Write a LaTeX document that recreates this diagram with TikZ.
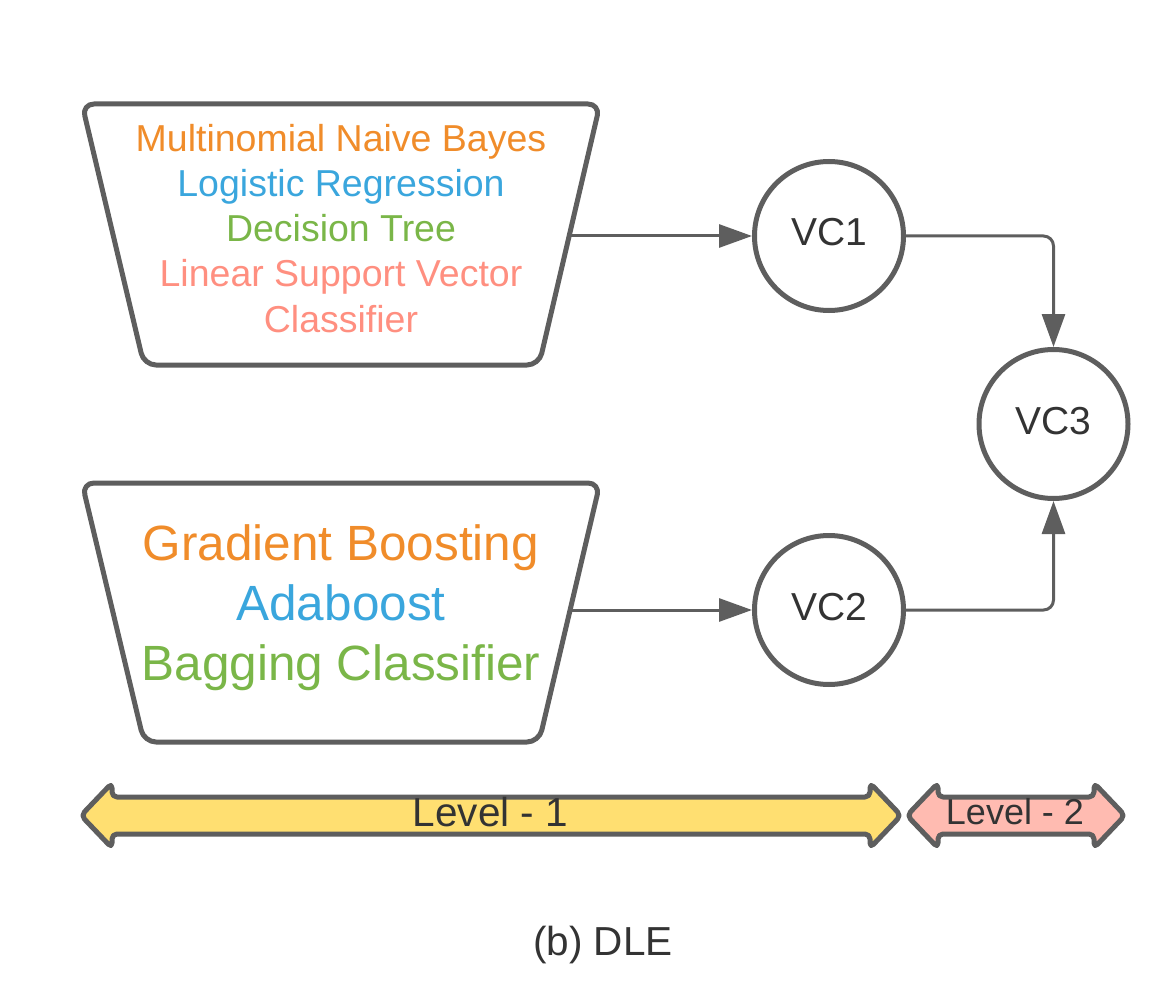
\documentclass[tikz,border=0pt]{standalone}
\usepackage{fontspec}
\setmainfont{Liberation Sans}
\usetikzlibrary{arrows.meta}
\definecolor{strokeg}{HTML}{5E5E5E}
\definecolor{txtd}{HTML}{333333}
\definecolor{corange}{HTML}{F08C2A}
\definecolor{cblue}{HTML}{3AA6DD}
\definecolor{cgreen}{HTML}{7AB648}
\definecolor{csalmon}{HTML}{FF8F80}
\definecolor{cyellow}{HTML}{FFDF71}
\definecolor{cpink}{HTML}{FFBBB1}
\tikzset{
  trapbox/.style={draw=strokeg, line width=5pt, rounded corners=12pt, line join=round},
  vcnode/.style={circle, draw=strokeg, line width=5pt, minimum size=149pt, inner sep=0pt, fill=white},
  vctext/.style={anchor=base, text=txtd, inner sep=0pt, font=\fontsize{39}{45}\selectfont},
  smalltxt/.style={anchor=base, inner sep=0pt, font=\fontsize{37.5}{45}\selectfont},
  bigtxt/.style={anchor=base, inner sep=0pt, font=\fontsize{49.5}{60}\selectfont},
  conn/.style={draw=strokeg, line width=3pt, -{Triangle[length=33pt, width=23pt]}, rounded corners=10pt},
  levelbar/.style={draw=strokeg, line width=5pt, rounded corners=5pt, line join=round},
}
\begin{document}
\begin{tikzpicture}[x=1pt, y=-1pt]
\useasboundingbox (0,0) rectangle (1176,1003);

% top trapezoid
\draw[trapbox] (341,104) -- (600,104) -- (539,365) -- (144,365) -- (82,104) -- cycle;
\node[smalltxt, text=corange] (t1a) at (341,152) {Multinomial Naive Bayes};
\node[smalltxt, text=cblue] (t1b) at (341,197) {Logistic Regression};
\node[smalltxt, text=cgreen] (t1c) at (341,242) {Decision Tree};
\node[smalltxt, text=csalmon] (t1d) at (341,287) {Linear Support Vector};
\node[smalltxt, text=csalmon] (t1e) at (341,332) {Classifier};
\coordinate (t1r) at (570,236);

% bottom trapezoid
\draw[trapbox] (341,483) -- (600,483) -- (539,742) -- (144,742) -- (82,483) -- cycle;
\node[bigtxt, text=corange] (t2a) at (341,560) {Gradient Boosting};
\node[bigtxt, text=cblue] (t2b) at (341,620) {Adaboost};
\node[bigtxt, text=cgreen] (t2c) at (341,680) {Bagging Classifier};
\coordinate (t2r) at (570,610);

% voting classifier circles
\node[vcnode] (vc1) at (829,236) {};
\node[vctext] (vc1t) at (829,246) {VC1};
\node[vcnode] (vc2) at (829,610) {};
\node[vctext] (vc2t) at (829,620) {VC2};
\node[vcnode] (vc3) at (1053.5,424) {};
\node[vctext] (vc3t) at (1053.5,434) {VC3};

% connectors
\draw[conn] (t1r) -- (vc1.west);
\draw[conn] (t2r) -- (vc2.west);
\draw[conn] (vc1.east) -| (vc3.north);
\draw[conn] (vc2.east) -| (vc3.south);

% level bars
\draw[levelbar, fill=cyellow] (490,797) -- (870,797) -- (870,783) -- (901,815.5) -- (870,848) -- (870,834)
  -- (112,834) -- (112,848) -- (81,815.5) -- (112,783) -- (112,797) -- cycle;
\node[anchor=base, inner sep=0pt, text=txtd, font=\fontsize{40.5}{45}\selectfont] (lv1) at (490.5,826) {Level - 1};
\draw[levelbar, fill=cpink] (1016,797) -- (1094,797) -- (1094,783) -- (1125,815.5) -- (1094,848) -- (1094,834)
  -- (938,834) -- (938,848) -- (907,815.5) -- (938,783) -- (938,797) -- cycle;
\node[anchor=base, inner sep=0pt, text=txtd, font=\fontsize{36}{40}\selectfont] (lv2) at (1015,824) {Level - 2};

% caption
\node[anchor=base, inner sep=0pt, text=txtd, font=\fontsize{40.5}{45}\selectfont] (cap) at (603,955) {(b) DLE};
\end{tikzpicture}
\end{document}
